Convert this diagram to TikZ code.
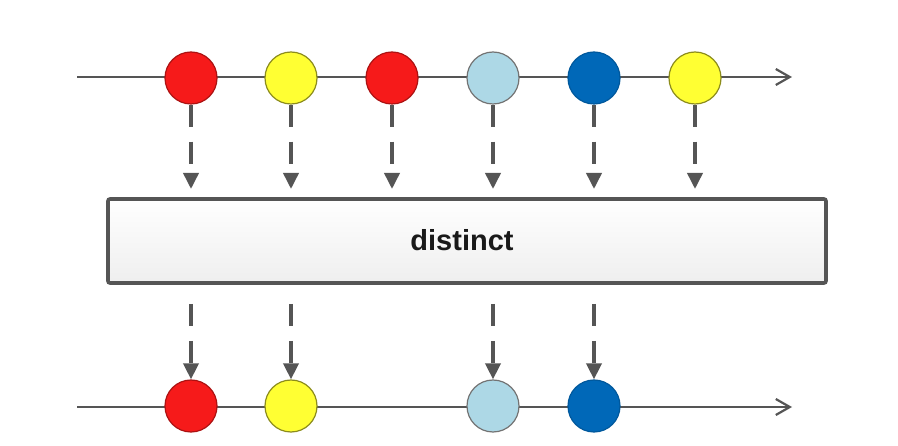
\documentclass[tikz,border=0pt]{standalone}
\usepackage{fontspec}
\setmainfont{Liberation Sans}
\usetikzlibrary{arrows.meta}
\definecolor{lg}{HTML}{555555}
\definecolor{cred}{HTML}{F61A1A}
\definecolor{cyel}{HTML}{FFFF33}
\definecolor{clb}{HTML}{ADD8E6}
\definecolor{cblue}{HTML}{0068B8}
\tikzset{
  axis/.style={draw=lg, line width=2.4pt, -{Straight Barb[length=14pt,width=16pt,line width=2.2pt]}},
  marble/.style={circle, minimum size=52pt, inner sep=0pt, line width=1.2pt},
  mred/.style={marble, fill=cred, draw=cred!70!black},
  myel/.style={marble, fill=cyel, draw=cyel!55!black},
  mlb/.style={marble, fill=clb, draw=gray!90!black},
  mblue/.style={marble, fill=cblue, draw=cblue!85!black},
  flow/.style={draw=lg, line width=3.6pt, dash pattern=on 22pt off 15pt, -{Triangle[length=16pt,width=15pt]}},
  opbox/.style={draw=lg, line width=3.6pt, rounded corners=2pt, top color=white, bottom color=gray!13, minimum width=718pt, minimum height=84pt, inner sep=0pt}
}
\begin{document}
\begin{tikzpicture}[x=1pt,y=-1pt]
\useasboundingbox (0,0) rectangle (898,446);
\coordinate (t0) at (77,77);
\coordinate (t1) at (792,77);
\coordinate (b0) at (77,407);
\coordinate (b1) at (792,407);
\draw[axis] (t0) -- (t1);
\draw[axis] (b0) -- (b1);
\node[mred] (a1) at (191,78) {};
\node[myel] (a2) at (291,78) {};
\node[mred] (a3) at (392,78) {};
\node[mlb] (a4) at (493,78) {};
\node[mblue] (a5) at (594,78) {};
\node[myel] (a6) at (695,78) {};
\node[opbox] (op) at (467,241) {};
\node[font=\bfseries\fontsize{29}{32}\selectfont, text=black!90] (lbl) at (462,240) {distinct};
\foreach \i/\x in {1/191,2/291,3/392,4/493,5/594,6/695}{
  \coordinate (u\i) at (\x,189);
  \draw[flow] (a\i.south) -- (u\i);
}
\node[mred] (r1) at (191,406) {};
\node[myel] (r2) at (291,406) {};
\node[mlb] (r4) at (493,406) {};
\node[mblue] (r5) at (594,406) {};
\foreach \i/\x in {1/191,2/291,4/493,5/594}{
  \coordinate (d\i) at (\x,304);
  \draw[flow] (d\i) -- (r\i.north);
}
\end{tikzpicture}
\end{document}
